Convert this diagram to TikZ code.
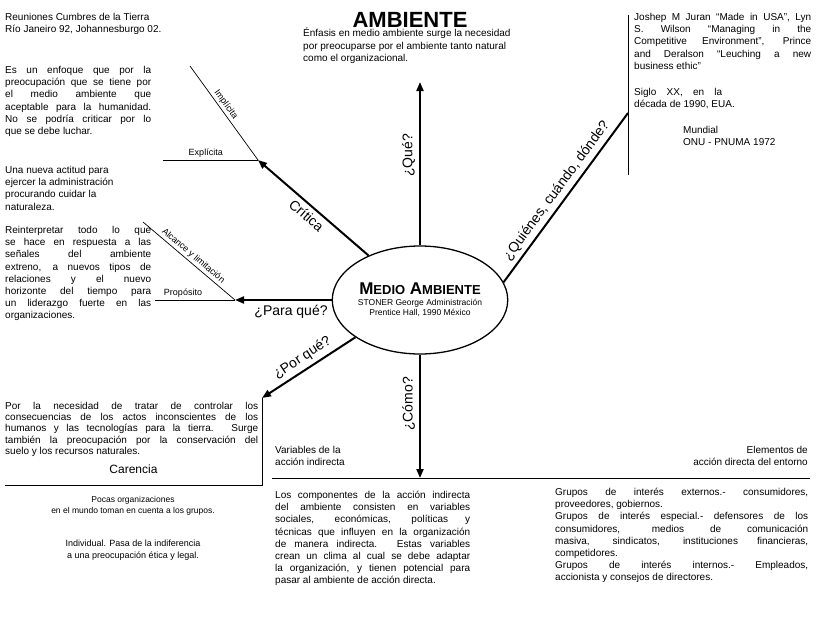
\documentclass[tikz,border=0pt]{standalone}
\usepackage{fontspec}
\setmainfont{Liberation Sans}
\usetikzlibrary{arrows.meta, shapes.geometric}

\begin{document}
\begin{tikzpicture}[x=1pt, y=-1pt,
  texto/.style={anchor=north west, inner sep=0pt, font=\fontsize{10}{12.2}\selectfont},
  parrafo/.style={texto, align=justify},
  etiqueta/.style={font=\fontsize{9}{10}\selectfont, inner sep=2pt},
  pregunta/.style={font=\fontsize{14}{16}\selectfont, inner sep=4pt},
  rama/.style={draw, line width=2pt, -{Triangle[length=9pt, width=7pt]}},
  linea/.style={draw, line width=0.7pt},
]
\useasboundingbox (0,0) rectangle (816,624);

\node[font=\fontsize{22}{24}\selectfont\bfseries] (titulo) at (410,20) {AMBIENTE};

\node[ellipse, draw, line width=1.3pt, minimum width=163, minimum height=108,
      align=center, inner sep=0pt, font=\fontsize{8.5}{10}\selectfont] (medio) at (420,300)
  {{\bfseries\fontsize{17}{18}\selectfont M{\fontsize{13}{14}\selectfont EDIO} A{\fontsize{13}{14}\selectfont MBIENTE}}\\[1pt]
   STONER George Administración\\Prentice Hall, 1990 México};

\coordinate (critica) at (258,160);
\coordinate (implicita) at (190,66);
\coordinate (explicita) at (163,160);
\coordinate (paraque) at (235,300);
\coordinate (alcance) at (143,222);
\coordinate (proposito) at (155,300);
\coordinate (que) at (420,82);
\coordinate (quienes) at (628,113);
\coordinate (autoresarr) at (628,15);
\coordinate (autoresab) at (628,175);
\coordinate (porque) at (262,398);
\coordinate (carencia) at (262,485);
\coordinate (carenciaizq) at (5,485);
\coordinate (como) at (420,478);
\coordinate (comoizq) at (272,478);
\coordinate (comoder) at (810,478);

\draw[rama] (medio) -- (critica) node[pregunta, pos=0.5, sloped, below] {Crítica};
\draw[linea] (implicita) -- (critica) node[etiqueta, pos=0.45, sloped, above] {Implícita};
\draw[linea] (explicita) -- (critica) node[etiqueta, pos=0.45, above] {Explícita};

\draw[rama] (medio.west) -- (paraque) node[pregunta, pos=0.42, below] {¿Para qué?};
\draw[linea] (alcance) -- (paraque) node[etiqueta, pos=0.5, sloped, above] {Alcance y limitación};
\draw[linea] (proposito) -- (paraque) node[etiqueta, pos=0.35, above] {Propósito};

\draw[rama] (medio) -- (que) node[pregunta, pos=0.55, rotate=90, anchor=south] {¿Qué?};

\draw[line width=2pt] (medio.12) -- (quienes) node[pregunta, pos=0.5, sloped, above] {¿Quiénes, cuándo, dónde?};
\draw[linea] (autoresarr) -- (autoresab);

\draw[rama] (medio.210) -- (porque) node[pregunta, pos=0.5, sloped, above] {¿Por qué?};
\draw[linea] (porque) -- (carencia) -- (carenciaizq)
  node[pos=0.5, above=11pt, font=\fontsize{12}{14}\selectfont, inner sep=0pt] {Carencia};

\draw[rama] (medio) -- (como) node[pregunta, pos=0.4, rotate=90, anchor=south] {¿Cómo?};
\draw[linea] (comoizq) -- (comoder);

\node[texto, align=left] (cumbres) at (5,13)
  {Reuniones Cumbres de la Tierra\\Río Janeiro 92, Johannesburgo 02.};
\node[parrafo, text width=146] (enfoque) at (5,66)
  {Es un enfoque que por la\linebreak preocupación que se tiene por\linebreak el medio ambiente que\linebreak aceptable para la humanidad.\linebreak No se podría criticar por lo\linebreak que se debe luchar.};
\node[texto, align=left] (actitud) at (5,166)
  {Una nueva actitud para\\ejercer la administración\\procurando cuidar la\\naturaleza.};
\node[parrafo, text width=146] (reinterpretar) at (5,226)
  {Reinterpretar todo lo que\linebreak se hace en respuesta a las\linebreak señales del ambiente\linebreak extreno, a nuevos tipos de\linebreak relaciones y el nuevo\linebreak horizonte del tiempo para\linebreak un liderazgo fuerte en las\linebreak organizaciones.};

\node[texto, align=left] (enfasis) at (303,28)
  {Énfasis en medio ambiente surge la necesidad\\por preocuparse por el ambiente tanto natural\\como el organizacional.};

\node[parrafo, text width=177] (autores) at (634,13)
  {Joshep M Juran ``Made in USA'', Lyn\linebreak S. Wilson ``Managing in the\linebreak Competitive Environment'', Prince\linebreak and Deralson ``Leuching a new\linebreak business ethic''};
\node[texto, align=left] (siglo) at (634,88)
  {\makebox[88pt][s]{Siglo XX, en la}\\década de 1990, EUA.};
\node[texto, align=left] (mundial) at (683,126) {Mundial\\ONU - PNUMA 1972};

\node[parrafo, text width=253, font=\fontsize{10}{11.2}\selectfont] (necesidad) at (5,402)
  {Por la necesidad de tratar de controlar los\linebreak consecuencias de los actos inconscientes de los\linebreak humanos y las tecnologías para la tierra. Surge\linebreak también la preocupación por la conservación del\linebreak suelo y los recursos naturales.};
\node[texto, align=center, anchor=north, font=\fontsize{8.5}{11}\selectfont] (pocas) at (133,496)
  {Pocas organizaciones\\en el mundo toman en cuenta a los grupos.};
\node[texto, align=center, anchor=north, font=\fontsize{9}{11.5}\selectfont] (individual) at (133,540)
  {Individual. Pasa de la indiferencia\\a una preocupación ética y legal.};

\node[texto, align=left] (indirecta) at (275,446) {Variables de la\\acción indirecta};
\node[parrafo, text width=195] (componentes) at (275,491)
  {Los componentes de la acción indirecta\linebreak del ambiente consisten en variables\linebreak sociales, económicas, políticas y\linebreak técnicas que influyen en la organización\linebreak de manera indirecta. Estas variables\linebreak crean un clima al cual se debe adaptar\linebreak la organización, y tienen potencial para\linebreak pasar al ambiente de acción directa.};

\node[texto, align=right, anchor=north east] (directa) at (808,446)
  {Elementos de\\acción directa del entorno};
\node[parrafo, text width=253] (grupos) at (555,488)
  {Grupos de interés externos.- consumidores,\linebreak proveedores, gobiernos.\\
   Grupos de interés especial.- defensores de los\linebreak consumidores, medios de comunicación\linebreak masiva, sindicatos, instituciones financieras,\linebreak competidores.\\
   Grupos de interés internos.- Empleados,\linebreak accionista y consejos de directores.};
\end{tikzpicture}
\end{document}
